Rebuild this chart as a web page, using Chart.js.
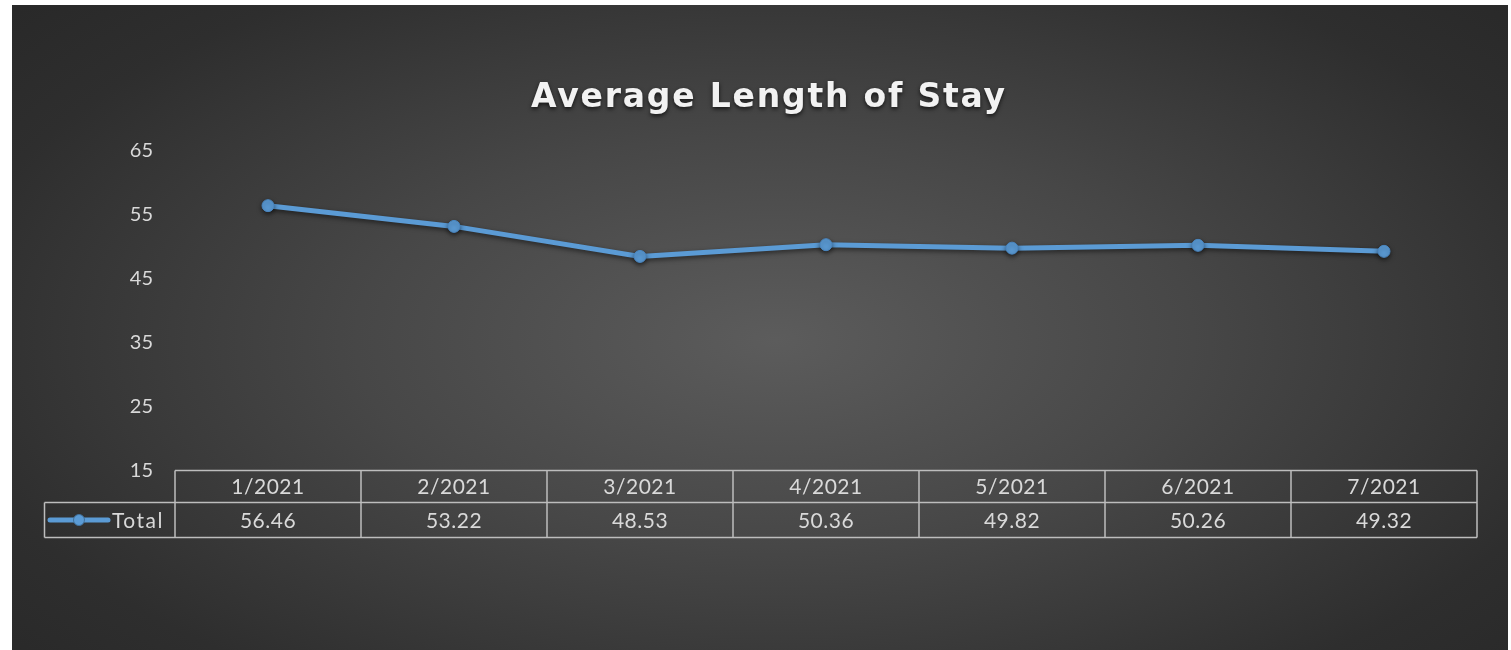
<!DOCTYPE html>
<html>
<head>
<meta charset="utf-8">
<script src="https://cdn.jsdelivr.net/npm/chart.js@4/dist/chart.umd.min.js"></script>
<style>
  body { margin: 0; background: #fff; }
  #wrap {
    position: absolute; left: 12px; top: 5px; width: 1496px; height: 645px;
    background: radial-gradient(ellipse 70% 80% at 51% 52%, #5c5c5c 0%, #474747 40%, #2e2e2e 80%, #282828 100%);
  }
</style>
</head>
<body>
<div id="wrap"><canvas id="stayChart" width="1496" height="645"></canvas></div>
<script>
/* =========================
   DATA
========================= */
const chartTitle = "Average Length of Stay";
const months = ["1/2021", "2/2021", "3/2021", "4/2021", "5/2021", "6/2021", "7/2021"];
const totals = [56.46, 53.22, 48.53, 50.36, 49.82, 50.26, 49.32];
const seriesName = "Total";
const yTicks = [15, 25, 35, 45, 55, 65];

const lineBlue = "#5b9bd5";
const textGrey = "#d9d9d9";
const tableLine = "#bdbdbd";

/* =========================
   TITLE + DATA TABLE PLUGIN
========================= */
const tablePlugin = {
  id: "tablePlugin",
  beforeDatasetsDraw(chart) {
    const c = chart.ctx;
    c.save();
    c.shadowColor = "rgba(0,0,0,0.55)";
    c.shadowBlur = 5;
    c.shadowOffsetY = 2;
  },
  afterDatasetsDraw(chart) {
    chart.ctx.restore();
  },
  afterDraw(chart) {
    const c = chart.ctx;
    const xs = chart.scales.x;
    const area = chart.chartArea;

    // title
    c.save();
    c.font = "bold 33px 'DejaVu Sans'";
    const w = c.measureText(chartTitle).width;
    const target = 474;
    c.letterSpacing = Math.max(0, (target - w) / (chartTitle.length - 1)).toFixed(2) + "px";
    c.fillStyle = "#f2f2f2";
    c.textAlign = "center";
    c.textBaseline = "alphabetic";
    c.shadowColor = "rgba(0,0,0,0.7)";
    c.shadowBlur = 4;
    c.shadowOffsetY = 2;
    c.fillText(chartTitle, 757, 102);
    c.restore();

    // table
    const half = (xs.getPixelForValue(1) - xs.getPixelForValue(0)) / 2;
    const top = Math.round(area.bottom) - 0.5;
    const mid = top + 32;
    const bot = mid + 35;
    const legendLeft = 32.5;
    const left = xs.getPixelForValue(0) - half;
    const right = xs.getPixelForValue(months.length - 1) + half;

    c.save();
    c.strokeStyle = tableLine;
    c.lineWidth = 1.5;
    c.beginPath();
    c.moveTo(left, top); c.lineTo(right, top);
    c.moveTo(legendLeft, mid); c.lineTo(right, mid);
    c.moveTo(legendLeft, bot); c.lineTo(right, bot);
    c.moveTo(legendLeft, mid); c.lineTo(legendLeft, bot);
    for (let i = 0; i <= months.length; i++) {
      const x = xs.getPixelForValue(0) - half + i * half * 2;
      c.moveTo(x, top); c.lineTo(x, bot);
    }
    c.stroke();

    c.fillStyle = textGrey;
    c.font = "21px Lato";
    c.letterSpacing = "0.5px";
    c.textAlign = "center";
    c.textBaseline = "middle";
    months.forEach((m, i) => {
      const x = xs.getPixelForValue(i);
      c.fillText(m, x, (top + mid) / 2 + 1);
      c.fillText(totals[i].toFixed(2), x, (mid + bot) / 2 + 1);
    });

    // legend key
    const ly = (mid + bot) / 2;
    c.strokeStyle = lineBlue;
    c.lineWidth = 5;
    c.lineCap = "round";
    c.beginPath();
    c.moveTo(38, ly); c.lineTo(96, ly);
    c.stroke();
    c.fillStyle = lineBlue;
    c.strokeStyle = "#41719c";
    c.lineWidth = 1;
    c.beginPath();
    c.arc(67, ly, 5.5, 0, Math.PI * 2);
    c.fill(); c.stroke();
    c.fillStyle = textGrey;
    c.textAlign = "left";
    c.letterSpacing = "1.5px";
    c.fillText(seriesName, 100, ly + 1);
    c.restore();
  }
};

/* =========================
   LINE CHART
========================= */
const ctx = document.getElementById("stayChart");

new Chart(ctx, {
  type: "line",
  data: {
    labels: months,
    datasets: [
      {
        label: seriesName,
        data: totals,
        borderColor: lineBlue,
        borderWidth: 5,
        pointRadius: 6,
        pointBackgroundColor: lineBlue,
        pointBorderColor: "#4a86c0",
        pointBorderWidth: 1,
        tension: 0
      }
    ]
  },
  options: {
    responsive: false,
    animation: false,
    devicePixelRatio: 1,
    layout: { padding: { left: 113, right: 31, top: 146, bottom: 179 } },
    plugins: {
      legend: { display: false },
      title: { display: false },
      tooltip: { enabled: false }
    },
    scales: {
      x: {
        display: false,
        offset: true
      },
      y: {
        min: yTicks[0],
        max: yTicks[yTicks.length - 1],
        afterFit(scale) { scale.width = 50; },
        afterBuildTicks(scale) { scale.ticks = yTicks.map(v => ({ value: v })); },
        grid: { display: false, drawTicks: false },
        border: { display: false },
        ticks: {
          color: textGrey,
          padding: 22,
          font: { family: "Lato", size: 20 }
        }
      }
    }
  },
  plugins: [tablePlugin]
});
</script>
</body>
</html>
